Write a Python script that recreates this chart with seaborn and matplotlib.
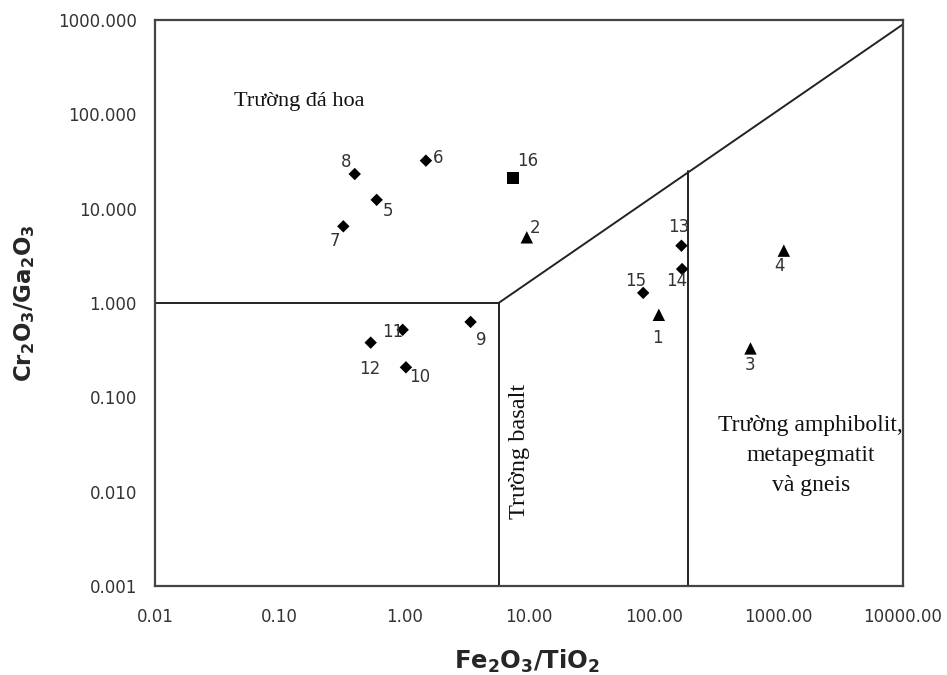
import matplotlib
matplotlib.use("Agg")
import matplotlib.pyplot as plt
import seaborn as sns
import pandas as pd
from matplotlib.ticker import FixedLocator, FixedFormatter, NullLocator

# ---- data ----
sample_ids = ["1", "2", "3", "4", "5", "6", "7", "8", "9", "10",
              "11", "12", "13", "14", "15", "16"]
fe_ti = [110, 9.6, 598, 1107, 0.60, 1.49, 0.324, 0.40, 3.40, 1.03,
         0.97, 0.537, 167, 169, 82.4, 7.4]
cr_ga = [0.75, 4.97, 0.33, 3.59, 12.4, 32.3, 6.5, 23.3, 0.63, 0.208,
         0.52, 0.38, 4.05, 2.29, 1.28, 21.2]
group = ["tri", "tri", "tri", "tri", "dia", "dia", "dia", "dia", "dia", "dia",
         "dia", "dia", "dia", "dia", "dia", "sq"]

# field boundaries (x, y in data units)
line_h_x = [0.01, 5.7]
line_h_y = [1.0, 1.0]
line_v1_x = [5.7, 5.7]
line_v1_y = [0.001, 1.0]
line_diag_x = [5.7, 10000]
line_diag_y = [1.0, 900]
line_v2_x = [188, 188]
line_v2_y = [0.001, 25]

x_ticks = [0.01, 0.1, 1, 10, 100, 1000, 10000]
x_ticklabels = ["0.01", "0.10", "1.00", "10.00", "100.00", "1000.00", "10000.00"]
y_ticks = [0.001, 0.01, 0.1, 1, 10, 100, 1000]
y_ticklabels = ["0.001", "0.010", "0.100", "1.000", "10.000", "100.000", "1000.000"]

df = pd.DataFrame({"id": sample_ids, "x": fe_ti, "y": cr_ga, "g": group})

# label offsets in pixels (dx, dy; dy positive = up)
label_off = {"1": (-1, -23), "2": (8, 9), "3": (0, -17), "4": (-4, -15),
             "5": (11, -11), "6": (12, 3), "7": (-8, -15), "8": (-9, 12),
             "9": (11, -18), "10": (14, -10), "11": (-10, -2), "12": (-1, -26),
             "13": (-3, 19), "14": (-5, -12), "15": (-7, 12), "16": (15, 17)}

sns.set_style("white")
plt.rcParams["font.family"] = ["DejaVu Sans"]
plt.rcParams["mathtext.fontset"] = "dejavusans"

fig = plt.figure(figsize=(9.47, 6.75), dpi=100)
ax = fig.add_axes([155 / 947, 1 - 586 / 675, (903 - 155) / 947, (586 - 20) / 675])
ax.set_xscale("log")
ax.set_yscale("log")
ax.set_xlim(0.01, 10000)
ax.set_ylim(0.001, 1000)

lc = "#222222"
for xs, ys in [(line_h_x, line_h_y), (line_v1_x, line_v1_y),
               (line_diag_x, line_diag_y), (line_v2_x, line_v2_y)]:
    ax.plot(xs, ys, color=lc, lw=1.4, zorder=2)

sns.scatterplot(data=df, x="x", y="y", style="g",
                markers={"dia": "D", "tri": "^", "sq": "s"},
                size="g", sizes={"dia": 40, "tri": 80, "sq": 70},
                color="black", edgecolor="black", linewidth=0,
                legend=False, ax=ax, zorder=3)

for sid, xv, yv in zip(sample_ids, fe_ti, cr_ga):
    dx, dy = label_off[sid]
    ax.annotate(sid, (xv, yv), xytext=(dx * 0.72, dy * 0.72),
                textcoords="offset points", ha="center", va="center",
                fontsize=12, color="#333333")

serif = ["Liberation Serif", "DejaVu Serif"]
ax.text(0.143, 123, "Trường đá hoa", ha="center", va="baseline",
        fontsize=16, family=serif, color="#111111")
ax.text(8.45, 0.027, "Trường basalt", ha="center", va="center", rotation=90,
        fontsize=17.5, family=serif, color="#111111")
ax.text(1824, 0.01014, "Trường amphibolit,\nmetapegmatit\nvà gneis",
        ha="center", va="baseline", fontsize=17, family=serif,
        color="#111111", linespacing=1.55, multialignment="center")

ax.xaxis.set_major_locator(FixedLocator(x_ticks))
ax.xaxis.set_major_formatter(FixedFormatter(x_ticklabels))
ax.yaxis.set_major_locator(FixedLocator(y_ticks))
ax.yaxis.set_major_formatter(FixedFormatter(y_ticklabels))
ax.xaxis.set_minor_locator(NullLocator())
ax.yaxis.set_minor_locator(NullLocator())
ax.tick_params(axis="both", which="major", direction="out", length=4,
               width=1.2, color="#333333", labelsize=12, labelcolor="#333333")
ax.tick_params(axis="x", pad=12)
ax.tick_params(axis="y", pad=9)

for sp in ax.spines.values():
    sp.set_color("#444444")
    sp.set_linewidth(1.6)
    sp.set_visible(True)

ax.set_xlabel(r"$\mathbf{Fe_2O_3/TiO_2}$", fontsize=17.5)
ax.set_ylabel(r"$\mathbf{Cr_2O_3/Ga_2O_3}$", fontsize=16.5)
ax.xaxis.set_label_coords((527 - 155) / 748, -(661 - 586) / 566)
ax.yaxis.set_label_coords(-(155 - 25) / 748, (586 - 303) / 566)
ax.xaxis.label.set_va("center")
ax.yaxis.label.set_va("center")
ax.set_facecolor("white")
fig.patch.set_facecolor("white")

fig.savefig("out.png", dpi=100)
